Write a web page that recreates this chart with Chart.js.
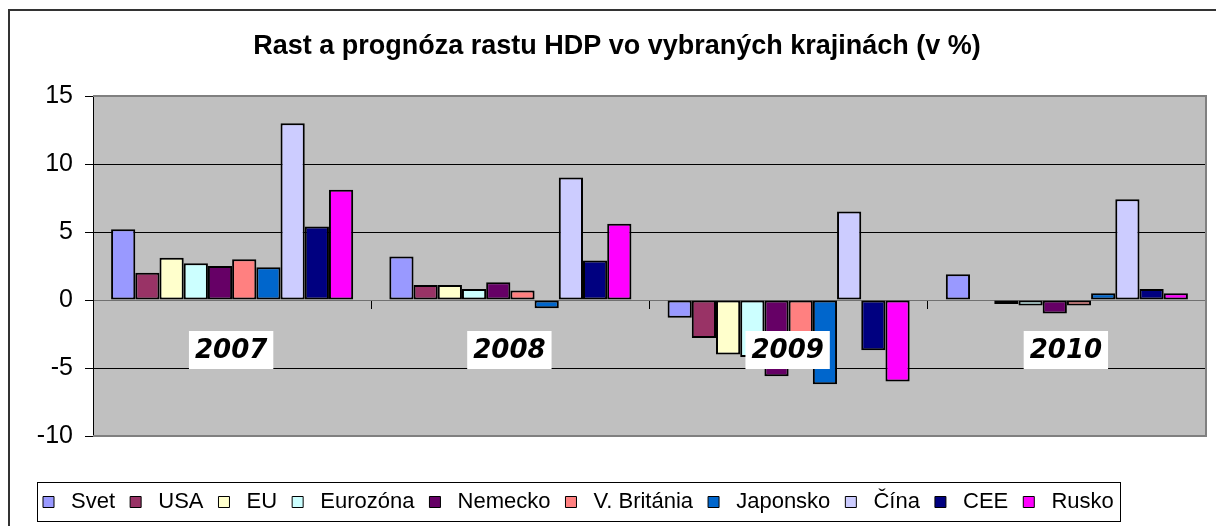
<!DOCTYPE html>
<html>
<head>
<meta charset="utf-8">
<script src="https://cdn.jsdelivr.net/npm/chart.js@4.4.1/dist/chart.umd.min.js"></script>
<style>
  html, body { margin: 0; padding: 0; background: #fff; }
  #wrap { width: 1216px; height: 526px; }
</style>
</head>
<body>
<div id="wrap"><canvas id="gdp" width="1216" height="526"></canvas></div>
<script>
// categories and series (GDP growth, %)
const years = ['2007', '2008', '2009', '2010'];
const countries = ['Svet', 'USA', 'EU', 'Eurozóna', 'Nemecko', 'V. Británia', 'Japonsko', 'Čína', 'CEE', 'Rusko'];

const svet     = [5.2, 3.2, -1.3, 1.9];
const usa      = [2.0, 1.1, -2.8, 0.0];
const eu       = [3.1, 1.1, -4.0, -0.3];
const eurozona = [2.7, 0.8, -4.2, -0.4];
const nemecko  = [2.5, 1.3, -5.6, -1.0];
const britania = [3.0, 0.7, -4.4, -0.4];
const japonsko = [2.4, -0.6, -6.2, 0.5];
const cina     = [13.0, 9.0, 6.5, 7.4];
const cee      = [5.4, 2.9, -3.7, 0.8];
const rusko    = [8.1, 5.6, -6.0, 0.5];

const yTicks = [-10, -5, 0, 5, 10, 15];

const seriesValues = [svet, usa, eu, eurozona, nemecko, britania, japonsko, cina, cee, rusko];
const seriesColors = ['#9999FF', '#993366', '#FFFFCC', '#CCFFFF', '#660066',
                      '#FF8080', '#0066CC', '#CCCCFF', '#000080', '#FF00FF'];

// outer frame, plot background
const frame = {
  id: 'frame',
  beforeDraw(chart) {
    const { ctx, chartArea: a } = chart;
    ctx.save();
    ctx.strokeStyle = '#333';
    ctx.lineWidth = 2;
    ctx.strokeRect(9, 10, 1240, 560);
    ctx.fillStyle = '#C0C0C0';
    ctx.fillRect(a.left, a.top, a.right - a.left, a.bottom - a.top);
    ctx.restore();
  },
  beforeDatasetsDraw(chart) {
    const { ctx, chartArea: a } = chart;
    ctx.save();
    ctx.strokeStyle = '#808080';
    ctx.lineWidth = 2;
    ctx.beginPath();
    ctx.moveTo(a.left, a.top);
    ctx.lineTo(a.right, a.top);
    ctx.lineTo(a.right, a.bottom);
    ctx.lineTo(a.left, a.bottom);
    ctx.stroke();
    ctx.restore();
  },
  afterDraw(chart) {
    // box around the legend
    const boxes = chart.legend.legendHitBoxes;
    if (!boxes || !boxes.length) return;
    const left = Math.min(...boxes.map(b => b.left)) - 6;
    const right = Math.max(...boxes.map(b => b.left + b.width)) + 6;
    const mid = boxes[0].top + boxes[0].height / 2;
    const ctx = chart.ctx;
    ctx.save();
    ctx.strokeStyle = '#000';
    ctx.lineWidth = 1;
    ctx.strokeRect(Math.round(left) + 0.5, Math.round(mid - 20) + 0.5, Math.round(right - left), 39);
    ctx.restore();
  }
};

// year labels on white boxes under the zero line
const yearLabels = {
  id: 'yearLabels',
  afterDatasetsDraw(chart) {
    const { ctx, scales: { x, y } } = chart;
    const y0 = y.getPixelForValue(0);
    ctx.save();
    ctx.font = 'italic bold 26px "DejaVu Sans"';
    ctx.textAlign = 'center';
    ctx.textBaseline = 'middle';
    years.forEach((yr, i) => {
      const cx = x.getPixelForValue(i) - 1;
      const w = ctx.measureText(yr).width + 12;
      ctx.fillStyle = '#fff';
      ctx.fillRect(cx - w / 2, y0 + 31, w, 38);
      ctx.fillStyle = '#000';
      ctx.fillText(yr, cx, y0 + 51);
    });
    ctx.restore();
  }
};

new Chart(document.getElementById('gdp'), {
  type: 'bar',
  data: {
    labels: years,
    datasets: countries.map((name, i) => ({
      label: name,
      data: seriesValues[i],
      backgroundColor: seriesColors[i],
      borderColor: '#000',
      borderWidth: 2,
      borderSkipped: false,
      barPercentage: 1,
      categoryPercentage: 0.87
    }))
  },
  options: {
    responsive: false,
    devicePixelRatio: 1,
    animation: false,
    layout: { padding: { left: 28, right: 10, top: 0, bottom: 3 } },
    scales: {
      x: {
        position: { y: 0 },
        ticks: { display: false },
        grid: { drawOnChartArea: false, drawTicks: true, tickLength: 8, color: '#000', offset: true },
        border: { display: true, color: '#707070', width: 1 }
      },
      y: {
        min: -10,
        max: 15,
        afterBuildTicks: s => { s.ticks = yTicks.map(v => ({ value: v })); },
        afterFit: s => { s.width = 65; },
        ticks: { font: { family: 'Liberation Sans', size: 25 }, color: '#000', padding: 12 },
        grid: {
          color: c => (c.tick && (c.tick.value === 15 || c.tick.value === -10 || c.tick.value === 0)) ? '#707070' : '#000',
          lineWidth: 1,
          tickLength: 8,
          tickColor: '#000'
        },
        border: { display: true, color: '#000', width: 1 }
      }
    },
    plugins: {
      title: {
        display: true,
        text: 'Rast a prognóza rastu HDP vo vybraných krajinách (v %)',
        color: '#000',
        font: { family: 'Liberation Sans', size: 27, weight: 'bold' },
        padding: { top: 30, bottom: 33.6 }
      },
      legend: {
        position: 'bottom',
        align: 'start',
        title: { display: true, text: '', font: { size: 1 }, padding: { top: 38.8, bottom: 0 } },
        labels: {
          color: '#000',
          font: { family: 'Liberation Sans', size: 22 },
          boxWidth: 11,
          boxHeight: 11,
          padding: 15,
          generateLabels(chart) {
            const items = Chart.defaults.plugins.legend.labels.generateLabels(chart);
            items.forEach(it => { it.lineWidth = 1; it.strokeStyle = '#000'; it.text = ' ' + it.text; });
            return items;
          }
        }
      },
      tooltip: { enabled: false }
    }
  },
  plugins: [frame, yearLabels]
});
</script>
</body>
</html>
